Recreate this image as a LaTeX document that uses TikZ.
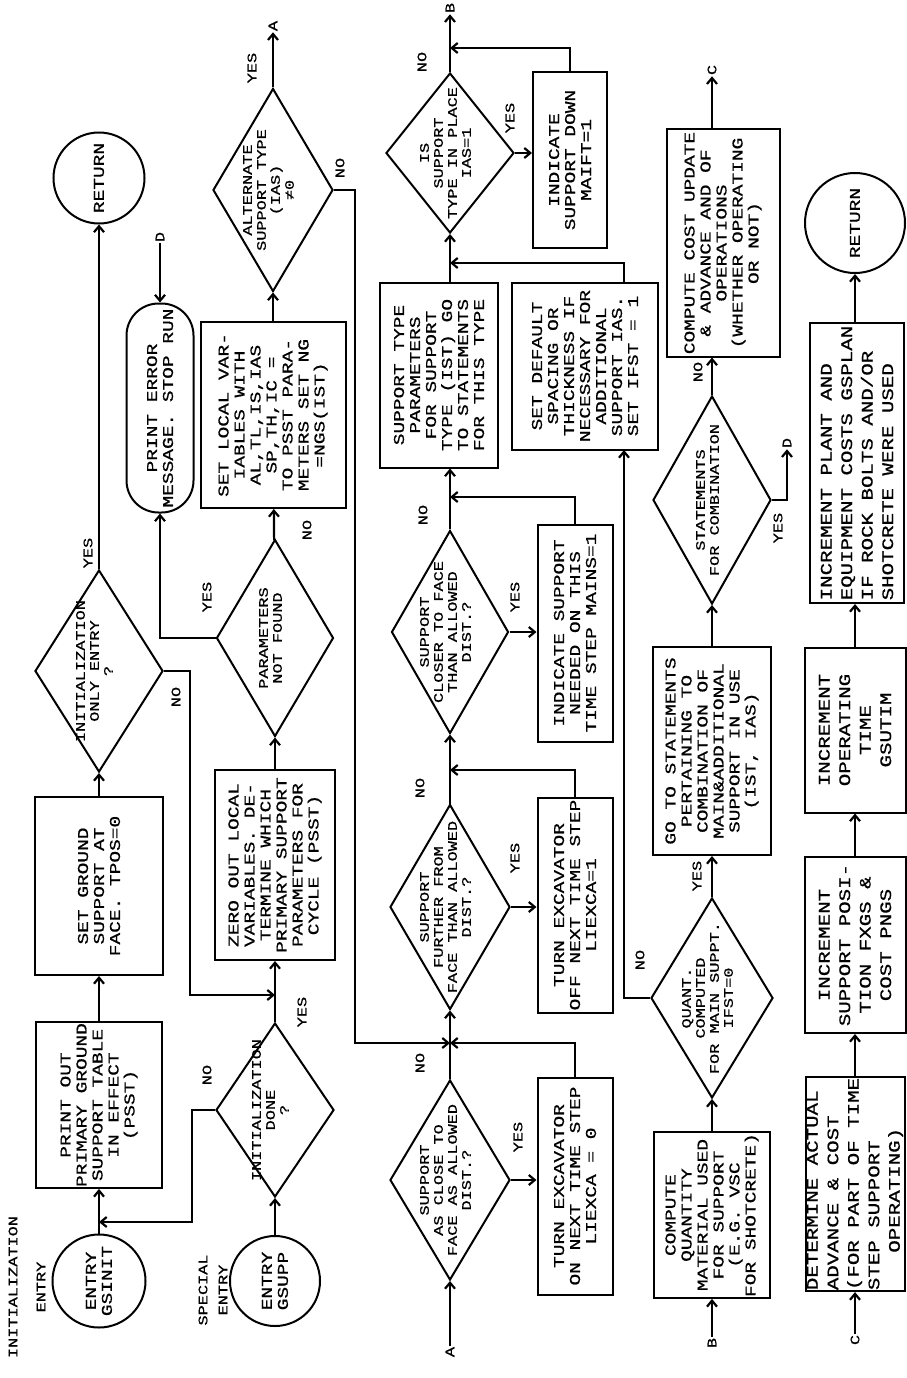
\documentclass[tikz,border=0pt]{standalone}
\usepackage{fontspec}
\newfontfamily\typew[FakeStretch=1.3,FakeBold=0.8]{Liberation Mono}
\usetikzlibrary{shapes.geometric,arrows.meta}
\newcommand{\dtx}[1]{\makebox[0pt]{\smash{\begin{tabular}{@{}c@{}}#1\end{tabular}}}}

\begin{document}
\begin{tikzpicture}[
    x=1pt, y=-1pt,
    every node/.style={rotate=90, font=\typew\fontsize{15}{16}\selectfont},
    proc/.style 2 args={draw, line width=2pt, minimum width=#1pt, minimum height=#2pt, align=center, inner sep=1pt},
    dec/.style 2 args={draw, diamond, line width=2pt, minimum width=#1pt, minimum height=#2pt, inner sep=0pt, font=\typew\fontsize{13}{14}\selectfont},
    conn/.style={draw, circle, line width=2pt, minimum size=#1pt, inner sep=0pt, align=center},
    term/.style 2 args={draw, line width=2pt, rounded corners=32pt, minimum width=#1pt, minimum height=#2pt, align=center, inner sep=1pt},
    big/.style={font=\typew\fontsize{16}{20.5}\selectfont},
    yn/.style={font=\typew\fontsize{13}{14}\selectfont, inner sep=1pt},
    arr/.style={line width=2.2pt, -{Straight Barb[length=6pt,width=10pt]}}
]
    \useasboundingbox (0,0) rectangle (906,1378);

    % initialization entry
    \node[yn, align=center] (hinit) at (27,1287) {INITIALIZATION\\[14pt]ENTRY};
    \node[conn=93] (ent1) at (99,1281) {ENTRY\\GSINIT};
    \node[proc={165}{126}] (prnt) at (99,1105) {PRINT OUT\\PRIMARY GROUND\\SUPPORT TABLE\\IN EFFECT\\(PSST)};
    \node[proc={178}{128}] (ground) at (99,886) {SET GROUND\\SUPPORT AT\\FACE. TPOS=0};
    \node[dec={202}{128}] (init) at (99,671) {\dtx{INITIALIZATION\\ONLY ENTRY\\?}};
    \node[conn=91] (ret1) at (99,178) {RETURN};
    \node[yn] (y1) at (88,553) {YES};
    \node[yn] (n1) at (176,697) {NO};

    % special entry
    \node[yn, align=center] (hspec) at (213,1290) {SPECIAL\\[6pt]ENTRY};
    \node[conn=90] (ent2) at (275,1281) {ENTRY\\GSUPP};
    \node[dec={174}{118}] (spec) at (275,1110) {\dtx{INITIALIZATION\\DONE\\?}};
    \node[proc={190}{120}] (zero) at (275,865) {ZERO OUT LOCAL\\VARIABLES. DE-\\TERMINE WHICH\\PRIMARY SUPPORT\\PARAMETERS FOR\\CYCLE (PSST)};
    \node[dec={197}{117}] (param) at (275,638) {\dtx{PARAMETERS\\NOT FOUND}};
    \node[proc={186}{145}] (setloc) at (273,415) {SET LOCAL VAR-\\IABLES WITH\\AL,TL,IS,IAS\\SP,TH,IC =\\TO PSST PARA-\\METERS SET NG\\=NGS(IST)};
    \node[dec={203}{120}] (altn) at (273,190) {\dtx{ALTERNATE\\SUPPORT TYPE\\(IAS)\\≠0}};
    \node[term={209}{67}] (perr) at (160,408) {PRINT ERROR\\MESSAGE. STOP RUN};
    \node[yn] (ld) at (160,237) {D};
    \node[yn] (la) at (273,26) {A};
    \node[yn] (y2) at (302,1012) {YES};
    \node[yn] (n2) at (207,1075) {NO};
    \node[yn] (y3) at (207,597) {YES};
    \node[yn] (n3) at (307,530) {NO};
    \node[yn] (y4) at (252,68) {YES};
    \node[yn] (n4) at (340,168) {NO};

    % support position tests
    \node[yn] (la2) at (450,1352) {A};
    \node[dec={200}{120}] (close) at (450,1180) {\dtx{SUPPORT\\AS CLOSE TO\\FACE AS ALLOWED\\DIST.?}};
    \node[proc={217}{75}] (exon) at (575,1186) {TURN EXCAVATOR\\ON NEXT TIME STEP\\LIEXCA = 0};
    \node[dec={205}{120}] (further) at (450,907) {\dtx{SUPPORT\\FURTHER FROM\\FACE THAN ALLOWED\\DIST.?}};
    \node[proc={215}{75}] (exoff) at (575,905) {TURN EXCAVATOR\\OFF NEXT TIME STEP\\LIEXCA=1};
    \node[dec={203}{117}] (closer) at (450,632) {\dtx{SUPPORT\\CLOSER TO FACE\\THAN ALLOWED\\DIST.?}};
    \node[proc={217}{75}] (indsup) at (575,633) {INDICATE SUPPORT\\NEEDED ON THIS\\TIME STEP MAINS=1};
    \node[proc={185}{118}] (ptype) at (439,375) {SUPPORT TYPE\\PARAMETERS\\FOR SUPPORT\\TYPE (IST) GO\\TO STATEMENTS\\FOR THIS TYPE};
    \node[dec={160}{128}] (sup) at (450,153) {\dtx{IS\\SUPPORT\\TYPE IN PLACE\\IAS=1}};
    \node[proc={175}{74}] (down) at (570,160) {INDICATE\\SUPPORT DOWN\\MAIFT=1};
    \node[yn] (lb) at (450,8) {B};
    \node[yn] (y5) at (518,1137) {YES};
    \node[yn] (n5) at (420,1063) {NO};
    \node[yn] (y6) at (515,858) {YES};
    \node[yn] (n6) at (420,788) {NO};
    \node[yn] (y7) at (515,597) {YES};
    \node[yn] (n7) at (423,515) {NO};
    \node[yn] (y8) at (510,118) {YES};
    \node[yn] (n8) at (422,62) {NO};
    \coordinate (j1) at (450,1043);
    \coordinate (j2) at (450,770);
    \coordinate (j3) at (450,497);
    \coordinate (j5) at (450,48);
    \coordinate (j6) at (450,263);

    % material and cost
    \node[yn] (lb2) at (712,1343) {B};
    \node[proc={154}{116}] (comp) at (712,1215) {COMPUTE\\QUANTITY\\MATERIAL USED\\FOR SUPPORT\\(E.G. VSC\\FOR SHOTCRETE)};
    \node[dec={200}{122}] (quant) at (712,998) {\dtx{QUANT.\\COMPUTED\\FOR MAIN SUPPT.\\IFST=0}};
    \node[proc={208}{118}] (goto) at (712,751) {GO TO STATEMENTS\\PERTAINING TO\\COMBINATION OF\\MAIN\&ADDITIONAL\\SUPPORT IN USE\\(IST, IAS)};
    \node[dec={208}{118}] (stmt) at (712,500) {\dtx{STATEMENTS\\FOR COMBINATION}};
    \node[proc={227}{113}] (cost) at (723,243) {COMPUTE COST UPDATE\\\& ADVANCE AND OF\\OPERATIONS\\(WHETHER OPERATING\\OR NOT)};
    \node[proc={167}{146}] (dflt) at (585,366) {SET DEFAULT\\SPACING OR\\THICKNESS IF\\NECESSARY FOR\\ADDITIONAL\\SUPPORT IAS.\\SET IFST = 1};
    \node[yn] (lc) at (712,70) {C};
    \node[yn] (ldd) at (787,443) {D};
    \node[yn] (y9) at (697,876) {YES};
    \node[yn] (n9) at (640,960) {NO};
    \node[yn] (y10) at (778,528) {YES};
    \node[yn] (n10) at (698,372) {NO};
    \coordinate (k4) at (624,450);

    % cost accumulation
    \node[yn] (lc2) at (855,1340) {C};
    \node[proc={208}{99}, big, align=left] (detact) at (855,1184) {DETERMINE ACTUAL\\ADVANCE \& COST\\(FOR PART OF TIME\\STEP SUPPORT\\\ \ \ OPERATING)};
    \node[proc={176}{101}, big] (suppos) at (855,945) {INCREMENT\\SUPPORT POSI-\\TION FXGS \&\\COST PNGS};
    \node[proc={165}{101}, big] (optime) at (855,730) {INCREMENT\\OPERATING\\TIME\\GSUTIM};
    \node[proc={280}{94}, big, align=left] (plant) at (857,463) {INCREMENT PLANT AND\\EQUIPMENT COSTS GSPLAN\\IF ROCK BOLTS AND/OR\\SHOTCRETE WERE USED};
    \node[conn=100] (ret2) at (855,223) {RETURN};

    % row 1 flow
    \draw[arr] (ent1) -- (prnt);
    \draw[arr] (prnt) -- (ground);
    \draw[arr] (ground) -- (init);
    \draw[arr] (init) -- (ret1);
    \coordinate (k2) at (190,995);
    \draw[arr] (init.south) -| (k2) -- (k2 -| zero);

    % row 2 flow
    \coordinate (k1) at (192,1222);
    \draw[arr] (ent2) -- (spec);
    \draw[arr] (spec.north) -| (k1) -- (k1 -| ent1);
    \draw[arr] (spec) -- (zero);
    \draw[arr] (zero) -- (param);
    \draw[arr] (param) -- (setloc);
    \draw[arr] (param.north) -| (perr);
    \draw[arr] (ld) -- (perr);
    \draw[arr] (setloc) -- (altn);
    \draw[arr] (altn) -- (la);
    \coordinate (k3) at (355,1043);
    \draw[arr] (altn.south) -| (k3) -- (j1);

    % row 3 flow
    \draw[arr] (la2) -- (close);
    \draw[arr] (close.south) -- (close.south -| exon.north);
    \draw[arr] (close) -- (further);
    \draw[arr] (exon.east) |- (j1);
    \draw[arr] (further.south) -- (further.south -| exoff.north);
    \draw[arr] (further) -- (closer);
    \draw[arr] (exoff.east) |- (j2);
    \draw[arr] (closer.south) -- (closer.south -| indsup.north);
    \draw[arr] (closer) -- (closer |- ptype.west);
    \draw[arr] (indsup.east) |- (j3);
    \draw[arr] (ptype.east -| sup) -- (sup);
    \draw[arr] (sup.south) -- (sup.south -| down.north);
    \draw[arr] (sup) -- (lb);
    \draw[arr] (down.east) |- (j5);

    % row 4 flow
    \draw[arr] (lb2) -- (comp);
    \draw[arr] (comp) -- (quant);
    \draw[arr] (quant) -- (goto);
    \draw[arr] (quant.north) -| (k4);
    \draw[arr] (dflt.east -| k4) |- (j6);
    \draw[arr] (goto) -- (stmt);
    \draw[arr] (stmt) -- (stmt |- cost.west);
    \draw[arr] (stmt.south) -| (ldd);
    \draw[arr] (cost.east -| lc) -- (lc);

    % row 5 flow
    \draw[arr] (lc2) -- (detact);
    \draw[arr] (detact) -- (suppos);
    \draw[arr] (suppos) -- (optime);
    \draw[arr] (optime) -- (plant.west -| optime);
    \draw[arr] (plant.east -| ret2) -- (ret2);
\end{tikzpicture}
\end{document}
